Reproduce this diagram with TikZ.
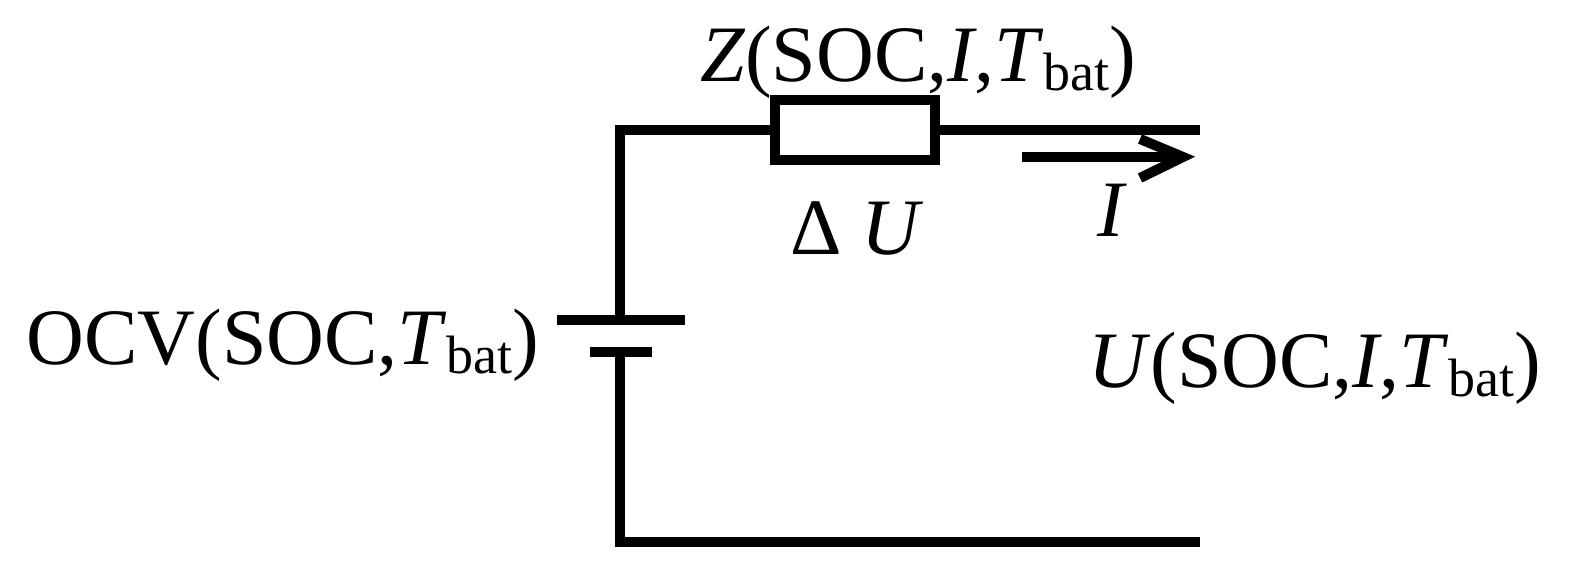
\documentclass[tikz,border=0pt]{standalone}
\usepackage{fontspec}
\setmainfont{Liberation Serif}
\newcommand{\Tb}{\textit{T}\raisebox{-0.25ex}{\fontsize{27}{30}\selectfont bat}}
\begin{document}
\begin{tikzpicture}[x=0.5pt,y=-0.5pt,
  w/.style={line width=5pt,line cap=butt,line join=miter},
  lbl/.style={font=\fontsize{40}{46}\selectfont,inner sep=0pt}]
\path[use as bounding box] (0,0) rectangle (1582,576);
\coordinate (tl) at (620,130);
\coordinate (pt) at (620,320);
\coordinate (pb) at (620,352);
\coordinate (bl) at (620,542);
\coordinate (br) at (1200,542);
\coordinate (tr) at (1200,130);
\node[w,draw,minimum width=80pt,minimum height=30pt,inner sep=0pt] (Z) at (855,130) {};
\draw[w] (pt) -- (tl) -- (Z.west);
\draw[w] (Z.east) -- (tr);
\draw[w] (pb) -- (bl) -- (br);
\draw[w] (557,320) -- (685,320);
\draw[w] (590,352) -- (652,352);
\coordinate (a1) at (1022,157);
\coordinate (a2) at (1183,157);
\draw[w] (a1) -- (a2);
\draw[w] (1140,139) -- (a2) -- (1140,178);
\node[lbl] (zl) at (918,62) {\textit{Z}(SOC,\textit{I},\Tb)};
\node[lbl] (du) at (857,228) {Δ \textit{U}};
\node[lbl] (il) at (1112,210) {\textit{I}};
\node[lbl] (ocv) at (283,345) {OCV(SOC,\Tb)};
\node[lbl] (ul) at (1315,368) {\textit{U}(SOC,\textit{I},\Tb)};
\end{tikzpicture}
\end{document}
